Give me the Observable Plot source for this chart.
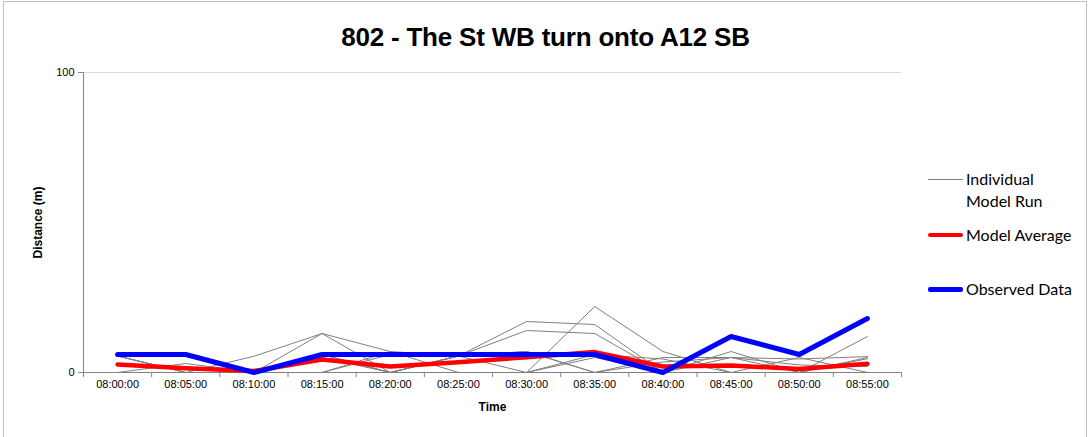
<!DOCTYPE html>
<html>
<head>
<meta charset="utf-8">
<script src="https://cdn.jsdelivr.net/npm/d3@7"></script>
<script src="https://cdn.jsdelivr.net/npm/@observablehq/plot@0.6"></script>
<style>
  html, body { margin: 0; padding: 0; background: #fff; }
  #wrap { position: relative; width: 1091px; height: 437px; overflow: hidden; font-family: "Liberation Sans", Arial, sans-serif; }
  #frame { position: absolute; left: 3px; top: 1px; width: 1084px; height: 440px; border: 1px solid #bfbfbf; box-sizing: border-box; }
  #title { position: absolute; left: 0; width: 1091px; top: 22px; text-align: center; font-weight: bold; font-size: 26px; letter-spacing: -0.2px; color: #000; }
  #chart { position: absolute; left: 0; top: 0; }
  #legend { position: absolute; left: 928px; top: 0; width: 160px; font-family: Lato, "Open Sans", sans-serif; font-size: 16px; color: #000; }
  .sw { position: absolute; left: 0; width: 35px; }
  .lab { position: absolute; left: 38px; line-height: 22px; white-space: nowrap; }
  svg [aria-label="y-axis label"] text, svg [aria-label="x-axis label"] text { font-weight: bold; font-size: 12px; }
</style>
</head>
<body>
<div id="wrap">
  <div id="frame"></div>
  <div id="chart"></div>
  <div id="title">802 - The St WB turn onto A12 SB</div>
  <div id="legend"></div>
</div>
<script>
const times = ["08:00:00","08:05:00","08:10:00","08:15:00","08:20:00","08:25:00","08:30:00","08:35:00","08:40:00","08:45:00","08:50:00","08:55:00"];
const observed = [6, 6, 0, 6, 6, 6, 6, 6, 0, 12, 6, 18];
const modelAverage = [2.7, 1.4, 0.5, 4.3, 2, 3.4, 5.1, 6.8, 2, 2.3, 1.2, 2.9];
const run1 = [5.5, 0, 0, 13, 0, 5.5, 17, 16, 0, 5, 0, 4.6];
const run2 = [5.5, 0, 5.4, 13, 7, 0, 0, 22, 7, 0, 5, 0];
const run3 = [5.5, 5.5, 0, 6, 0, 5.5, 14, 13, 0, 7, 0, 12];
const run4 = [5.5, 0, 0, 0, 6, 5.5, 7, 0, 5, 5, 4.5, 5.3];
const run5 = [5.5, 5.5, 0, 6, 0, 0, 0, 6, 4.5, 0, 0, 5];
const run6 = [0, 3, 0, 5, 0, 5.5, 7, 0, 3.5, 5, 2.5, 2];
const run7 = [0, 0, 0, 0, 7, 5.5, 6, 6, 0, 0, 0, 0];
const run8 = [0, 0, 0, 0, 0, 5.5, 0, 5, 0, 0, 0, 0];
const run9 = [0, 0, 0, 0, 0, 0, 0, 0, 0, 0, 0, 0];
const runs = [run1, run2, run3, run4, run5, run6, run7, run8, run9];
const yTicks = [0, 100];

const runRows = runs.flatMap((r, k) => r.map((v, i) => ({run: k, i, v})));
const avgRows = modelAverage.map((v, i) => ({i, v}));
const obsRows = observed.map((v, i) => ({i, v}));
const idx = d3.range(times.length);
const bounds = d3.range(times.length + 1).map(i => i - 0.5);

const axisGray = "#868686";
const chart = Plot.plot({
  width: 1091,
  height: 437,
  marginLeft: 83,
  marginRight: 190,
  marginTop: 72,
  marginBottom: 65,
  style: {fontFamily: "'Liberation Sans', Arial, sans-serif", fontSize: "11px", background: "transparent", color: "#000"},
  x: {type: "linear", domain: [-0.5, times.length - 0.5]},
  y: {domain: [0, 100]},
  marks: [
    Plot.ruleY([100], {stroke: "#d9d9d9"}),
    Plot.ruleY([0], {stroke: axisGray}),
    Plot.ruleX([-0.5], {y1: 0, y2: 100, stroke: axisGray}),
    Plot.ruleX(bounds, {y1: 0, y2: -1.7, stroke: axisGray}),
    Plot.axisY({ticks: yTicks, tickSize: 5, tickPadding: 4, stroke: axisGray, label: "Distance (m)", labelArrow: false, labelAnchor: "center", labelOffset: 50}),
    Plot.axisX({ticks: idx, tickSize: 0, tickPadding: 8, tickFormat: i => times[i], label: "Time", labelArrow: false, labelAnchor: "center", labelOffset: 38}),
    Plot.line(runRows, {x: "i", y: "v", z: "run", stroke: "#7f7f7f", strokeWidth: 1}),
    Plot.line(avgRows, {x: "i", y: "v", stroke: "#ff0000", strokeWidth: 4.5, strokeLinejoin: "round"}),
    Plot.line(obsRows, {x: "i", y: "v", stroke: "#0000ff", strokeWidth: 5, strokeLinejoin: "round"})
  ]
});
document.getElementById("chart").appendChild(chart);

const legendItems = [
  {label: ["Individual", "Model Run"], color: "#7f7f7f", w: 1, y: 179},
  {label: ["Model Average"], color: "#ff0000", w: 4.5, y: 235},
  {label: ["Observed Data"], color: "#0000ff", w: 5, y: 289}
];
const legend = document.getElementById("legend");
for (const it of legendItems) {
  const sw = document.createElement("div");
  sw.className = "sw";
  sw.style.top = (it.y - it.w / 2) + "px";
  sw.style.height = it.w + "px";
  sw.style.background = it.color;
  sw.style.borderRadius = it.w > 2 ? "2px" : "0";
  legend.appendChild(sw);
  it.label.forEach((t, j) => {
    const d = document.createElement("div");
    d.className = "lab";
    d.style.top = (it.y - 11 + j * 22) + "px";
    d.textContent = t;
    legend.appendChild(d);
  });
}
</script>
</body>
</html>
